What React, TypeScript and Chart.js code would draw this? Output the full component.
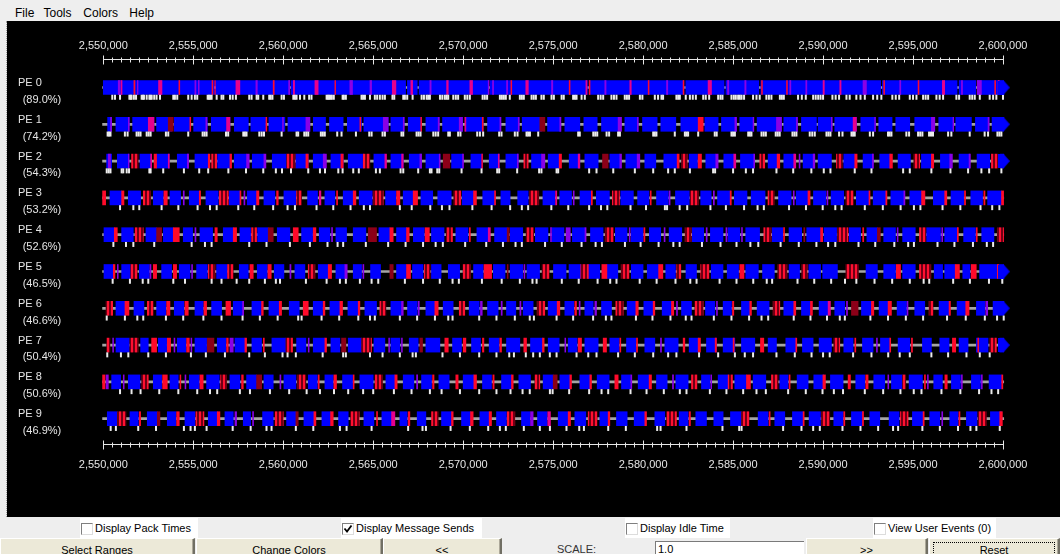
import { useEffect, useRef } from 'react';
import { Chart, registerables } from 'chart.js';

Chart.register(...registerables);

// Visible time window, in microseconds
const T0 = 2550000;
const T1 = 2600000;
const majorTicks = [2550000, 2555000, 2560000, 2565000, 2570000, 2575000, 2580000, 2585000, 2590000, 2595000, 2600000];
const minorTickStep = 500;

const peNames = ['PE 0', 'PE 1', 'PE 2', 'PE 3', 'PE 4', 'PE 5', 'PE 6', 'PE 7', 'PE 8', 'PE 9'];
const peUtilization = [89.0, 74.2, 54.3, 53.2, 52.6, 46.5, 46.6, 50.4, 50.6, 46.9];
// rows whose last execution runs past the right edge of the window
const peContinues = [true, true, true, false, false, true, true, true, false, false];
// trace extent for every processor (offset from T0)
const traceSpan = [-40, 50040];

// ---- busy periods of the main entry method, [start, end] offsets from T0 ----
const pe0Busy = [[0,6150],[6260,10370],[10450,16800],[16900,17450],[17550,21400],[21500,26900],[27000,32270],[32370,34500],[34600,36430],[36540,43200],[43300,47450],[47560,48480],[48580,50040]];
const pe1Busy = [[240,460],[700,1440],[1630,2815],[2960,3800],[3945,4850],[5020,5780],[6000,7040],[7280,8060],[8200,9020],[9200,10090],[10260,11480],[11670,12350],[12570,13330],[13560,14350],[14480,15830],[15980,16720],[16946,17687],[17928,18669],[18853,19965],[20150,21113],[21354,22095],[22372,23113],[23280,24350],[24688,25428],[25650,26483],[26706,27447],[27687,28706],[28984,29725],[29966,30780],[30983,31817],[32095,33058],[33428,34169],[34354,35187],[35372,36150],[36335,37687],[37817,38576],[38799,39632],[39725,40502],[40650,41854],[42095,42910],[43095,43836],[44040,44818],[45095,46207],[46429,47262],[47373,48244],[48466,49225],[49392,50040]];
const pe2Busy = [[185,463],[778,1426],[2037,2630],[2963,3667],[4111,4722],[5093,5833],[6352,7037],[7278,7963],[8278,8926],[9389,10185],[10704,11389],[11667,12315],[12648,13333],[13611,14444],[15037,15648],[15982,16667],[17002,17687],[17928,18669],[19354,19965],[20428,21076],[21446,22002],[22372,23057],[23798,24354],[24724,25335],[25891,26483],[26761,27502],[28150,28706],[29039,29669],[30094,30706],[31150,31891],[32558,33021],[33483,34039],[34483,35039],[35409,36151],[36947,37502],[37817,38428],[38891,39539],[39725,40465],[41150,41762],[42224,42780],[43150,43743],[44169,44854],[45466,46077],[46521,47077],[47558,48151],[48558,49262],[49855,50040]];
const pe3Busy = [[370,1019],[1389,2074],[2778,3333],[3704,4296],[4778,5333],[5704,6389],[7000,7593],[8000,8519],[8926,9537],[10037,10704],[11352,11907],[12315,12870],[13333,13889],[14222,14944],[15685,16259],[16667,17222],[17652,18307],[18587,19335],[19943,20575],[21089,21744],[22094,22609],[23029,23614],[24432,25087],[25367,26022],[26490,27121],[27401,28126],[28757,29459],[29693,30324],[30745,31399],[31797,32568],[33200,33784],[34135,34836],[35070,35772],[36006,36777],[37525,38226],[38507,39162],[39466,40144],[40448,41149],[41850,42552],[42786,43487],[43768,44493],[44820,45475],[46129,46760],[47111,47812],[48210,48864],[49145,49917]];
const pe4Busy = [[37,611],[1019,1667],[2370,2963],[3333,3889],[4444,4963],[5370,6074],[6667,7222],[7593,8185],[8575,9167],[9667,10370],[11019,11630],[12000,12593],[12926,13519],[13889,14593],[15315,15926],[16296,16852],[17231,17839],[18237,18938],[19593,20271],[20762,21393],[21744,22445],[22609,23310],[24011,24713],[24946,25601],[26069,26770],[27074,27775],[28454,29108],[29342,29997],[30347,30979],[31446,32148],[32732,33364],[33738,34439],[34719,35374],[35702,36473],[37174,37758],[38109,38811],[39092,39863],[40050,40752],[41453,42084],[42435,43019],[43370,44025],[44422,45124],[45755,46526],[46760,47462],[47812,48467],[48818,49496]];
const pe5Busy = [[37,556],[1019,1519],[2000,2556],[3241,3796],[4222,4815],[5185,5778],[6296,6889],[7556,8056],[8556,9111],[9500,10037],[10648,11204],[11944,12500],[12926,13426],[13889,14352],[14852,15407],[16296,16852],[17184,17769],[18237,18774],[19172,19803],[20575,21112],[21674,22328],[22609,23310],[23544,24245],[25017,25718],[25882,26537],[26957,27589],[27986,28594],[29342,29997],[30230,30862],[31259,31797],[32381,32966],[33784,34439],[34673,35304],[35702,36403],[36637,37291],[38109,38694],[39209,39863],[39980,40798],[42388,43019],[43370,44025],[44422,45124],[46176,46643],[46760,47345],[47765,48163],[48701,49683],[49780,50040]];
const pe6Busy = [[704,1204],[1704,2259],[2963,3481],[3944,4481],[5093,5556],[6019,6574],[7222,7741],[8259,8796],[9204,9815],[10333,10889],[11667,12185],[12593,13148],[13593,14167],[14537,15185],[15981,16574],[16907,17444],[17926,18426],[18889,19444],[20333,20889],[21352,21944],[22407,22926],[23333,23889],[24722,25224],[25650,26150],[26761,27224],[27687,28243],[29113,29632],[30039,30558],[31058,31576],[32132,32687],[33465,33984],[34447,34910],[35465,35928],[36336,37002],[37817,38373],[38799,39299],[39781,40281],[40650,41206],[42133,42688],[43114,43614],[44115,44633],[45096,45652],[46448,47003],[47448,47929],[48522,48985],[49448,50040]];
const pe7Busy = [[704,1444],[2074,2500],[3056,3519],[4111,4593],[5093,5741],[6333,6815],[7315,7870],[8259,8796],[9370,10148],[10741,11259],[11667,12315],[12648,13148],[13611,14352],[15037,15648],[15981,16481],[17000,17500],[17926,18704],[19407,19907],[20463,20963],[21444,22000],[22407,23148],[23741,24407],[24724,25335],[25835,26335],[26761,27502],[28150,28669],[29076,29595],[30094,30650],[31206,31947],[32558,33113],[33521,34076],[34447,35095],[35465,36206],[36947,37410],[37929,38484],[38854,39447],[39781,40466],[41152,41670],[42189,42781],[43189,43707],[44170,44818],[45522,46022],[46485,47003],[47559,48059],[48522,49170],[49818,50040]];
const pe8Busy = [[463,963],[1389,2037],[2778,3241],[3704,4167],[4778,5333],[5741,6444],[7037,7593],[7963,8519],[8926,9444],[10037,10704],[11389,11889],[12315,12778],[13296,13852],[14259,15000],[15704,16204],[16667,17259],[17685,18241],[18648,19222],[20000,20593],[21074,21574],[22130,22685],[23093,23741],[24444,25002],[25372,25928],[26483,27076],[27446,28113],[28798,29298],[29724,30335],[30743,31336],[31817,32502],[33243,33706],[34169,34725],[35095,35743],[36114,36818],[37595,38058],[38558,39170],[39484,40039],[40410,41114],[41817,42317],[42817,43428],[43800,44411],[44781,45522],[46150,46633],[47133,47633],[48244,48744],[49226,49911]];
const pe9Busy = [[222,778],[1481,1944],[2444,3000],[3556,4037],[4537,5093],[5833,6333],[6759,7222],[7778,8185],[8852,9444],[10185,10704],[11148,11704],[12148,12630],[13074,13611],[14481,15037],[15481,16019],[16481,16889],[17444,17926],[18796,19352],[19907,20407],[20926,21444],[21852,22407],[23241,23704],[24130,24667],[25280,25835],[26205,26817],[27594,28057],[28520,29113],[29502,30095],[30650,31206],[32002,32502],[32928,33521],[33928,34447],[34854,35465],[36392,36947],[37317,37873],[38299,38891],[39225,39855],[40595,41114],[41577,42189],[42596,43151],[43670,44226],[44966,45559],[45928,46485],[47041,47504],[47966,48559],[49300,49911]];

// ---- other entry methods: [start, end, kind]  r=red, m=magenta, p=purple, d=dark red, c=burst of short red entries ----
const pe0Entries = [[830,920,'p'],[980,1040,'m'],[1700,1760,'r'],[1890,1930,'p'],[3070,3260,'m'],[4200,4250,'r'],[5090,5150,'p'],[5280,5330,'p'],[6040,6090,'r'],[6190,6230,'m'],[7370,7590,'m'],[8480,8560,'p'],[9440,9500,'r'],[10300,10370,'p'],[10560,10630,'m'],[11760,11940,'m'],[12870,12910,'r'],[13700,13850,'p'],[14820,14910,'p'],[16060,16260,'m'],[17090,17190,'m'],[18150,18220,'p'],[19080,19170,'m'],[20370,20520,'m'],[21390,21440,'p'],[21630,21690,'p'],[22410,22470,'p'],[22650,22700,'r'],[23480,23620,'m'],[24910,24980,'p'],[25890,25940,'r'],[26820,26880,'m'],[27000,27050,'r'],[27870,27940,'p'],[29260,29340,'m'],[30280,30330,'r'],[31300,31370,'p'],[32220,32270,'r'],[33610,33800,'m'],[34690,34760,'p'],[35650,35720,'p'],[36580,36630,'r'],[37970,38020,'r'],[38150,38210,'p'],[39040,39100,'p'],[40000,40070,'m'],[40930,41000,'m'],[42220,42410,'p'],[43370,43420,'r'],[44260,44320,'p'],[45280,45330,'r'],[46630,46760,'m'],[47690,47750,'p'],[48560,48800,'p'],[49540,49590,'r'],[49730,49790,'m']];
const pe1Entries = [[400,460,'p'],[1390,1440,'p'],[2500,2815,'m'],[3610,3890,'d'],[4810,4860,'r'],[5700,5760,'p'],[6850,7040,'m'],[9040,9090,'r'],[9960,10010,'p'],[11260,11480,'p'],[14260,14310,'r'],[15560,15830,'p'],[16670,16720,'p'],[17640,17690,'r'],[18610,18670,'p'],[19780,19960,'p'],[20090,20150,'m'],[21060,21113,'r'],[22040,22095,'p'],[23060,23110,'p'],[24260,24540,'d'],[25370,25428,'p'],[28610,28800,'p'],[29680,29725,'p'],[33060,33340,'r'],[35100,35187,'p'],[36110,36150,'p'],[37410,37687,'p'],[38520,38576,'p'],[40460,40502,'p'],[41670,41854,'m'],[42870,42910,'p'],[46020,46207,'p'],[47220,47262,'p'],[49170,49225,'p']];
const pe2Entries = [[280,400,'p'],[1390,1430,'p'],[1570,1940,'c'],[2630,2690,'m'],[2820,2960,'r'],[3610,3667,'m'],[4670,4740,'p'],[5833,5926,'r'],[6020,6300,'c'],[7037,7130,'r'],[7963,8110,'p'],[8926,9037,'p'],[10185,10650,'c'],[11260,11389,'r'],[12222,12400,'p'],[13204,13333,'r'],[14444,14815,'c'],[15648,15740,'m'],[16580,16667,'m'],[17594,17687,'p'],[18669,18720,'p'],[18890,19260,'d'],[19965,20020,'p'],[21030,21076,'r'],[21950,22002,'m'],[23010,23057,'p'],[23372,23613,'c'],[24354,24540,'p'],[25335,25465,'r'],[26391,26483,'m'],[27743,28058,'d'],[28706,28800,'p'],[29669,29817,'p'],[31891,32002,'r'],[32132,32447,'c'],[33058,33243,'r'],[34039,34169,'p'],[35039,35150,'m'],[36151,36200,'p'],[36484,36761,'c'],[37447,37595,'r'],[38372,38483,'m'],[38669,38720,'p'],[39450,39539,'p'],[40743,41076,'c'],[41762,41891,'r'],[42743,42800,'p'],[43706,43855,'r'],[45040,45373,'c'],[46021,46150,'r'],[47040,47188,'p'],[48114,48188,'p'],[49355,49725,'c']];
const pe3Entries = [[-40,130,'r'],[1019,1148,'r'],[2222,2630,'c'],[3370,3556,'r'],[4444,4500,'p'],[5333,5407,'r'],[6444,6944,'c'],[7593,7650,'r'],[7815,7870,'p'],[8519,8648,'r'],[9630,9722,'r'],[10741,11019,'c'],[12000,12093,'m'],[12963,13020,'r'],[13889,14037,'r'],[15000,15556,'c'],[16296,16482,'r'],[17222,17465,'r'],[19476,19873,'c'],[20575,20738,'r'],[21744,21800,'r'],[23684,24199,'c'],[25134,25200,'m'],[26116,26170,'p'],[27121,27180,'r'],[28290,28687,'c'],[30394,30450,'r'],[31446,31500,'p'],[32615,33083,'c'],[33901,33960,'p'],[34836,34900,'r'],[36941,37291,'c'],[38343,38400,'p'],[39162,39279,'r'],[40214,40270,'p'],[41266,41687,'c'],[42552,42610,'r'],[43487,43550,'r'],[44493,44550,'p'],[45475,45660,'r'],[46760,46877,'r'],[47859,47920,'r'],[48935,49000,'r'],[49917,50034,'r']];
const pe4Entries = [[611,778,'r'],[1759,2222,'c'],[2963,3241,'d'],[3889,4222,'r'],[5093,5150,'p'],[6204,6333,'r'],[7222,7407,'r'],[8241,8519,'c'],[9167,9444,'d'],[10556,10833,'r'],[11667,11815,'r'],[12685,12740,'p'],[14722,15185,'d'],[15926,16111,'r'],[16852,17000,'r'],[17886,18120,'r'],[19055,19406,'c'],[20341,20400,'r'],[21393,21510,'m'],[22445,22562,'d'],[23497,23918,'c'],[24853,24910,'p'],[25718,25952,'p'],[26770,26830,'p'],[27892,28360,'c'],[29225,29280,'p'],[30043,30100,'r'],[31166,31220,'p'],[32335,32662,'c'],[33504,33560,'p'],[34603,34660,'p'],[35468,35520,'p'],[36707,37104,'c'],[37805,37860,'r'],[38928,38990,'d'],[39863,39980,'r'],[40798,41383,'c'],[42201,42260,'r'],[43019,43183,'d'],[44118,44170,'p'],[45357,45708,'c'],[46596,46650,'p'],[47462,47520,'r'],[48514,48570,'r'],[49683,50034,'c']];
const pe5Entries = [[556,648,'r'],[778,830,'p'],[1519,1889,'c'],[2593,2650,'p'],[2778,2963,'r'],[3889,4074,'r'],[4907,4960,'p'],[5833,6204,'c'],[6907,7222,'c'],[8148,8333,'r'],[9148,9333,'r'],[10370,10430,'p'],[11389,11759,'c'],[12500,12685,'r'],[13426,13555,'p'],[14426,14480,'p'],[15926,16111,'d'],[16852,17074,'r'],[17839,18166,'c'],[19990,20412,'c'],[21159,21580,'r'],[22445,22500,'d'],[23380,23430,'p'],[24386,24783,'c'],[26537,26957,'c'],[27706,27986,'r'],[28781,29225,'c'],[30862,31095,'r'],[31867,32101,'c'],[33200,33667,'c'],[35374,35608,'r'],[37478,37992,'c'],[38811,39115,'c'],[41266,41967,'c'],[44072,44306,'r'],[45357,45988,'c'],[47345,47578,'r'],[48233,48514,'r'],[49683,49760,'r']];
const pe6Entries = [[150,520,'c'],[1204,1426,'r'],[2444,2778,'c'],[3519,3704,'r'],[4537,4722,'r'],[5593,5741,'r'],[6815,7074,'r'],[7741,7800,'p'],[8796,8890,'r'],[9778,9907,'r'],[11111,11389,'r'],[12222,12315,'r'],[13148,13296,'r'],[14167,14259,'r'],[15370,15704,'c'],[16574,16670,'p'],[17500,17560,'p'],[18426,18611,'r'],[19778,20093,'c'],[20960,21060,'p'],[22110,22170,'p'],[23150,23210,'p'],[24111,24539,'c'],[25224,25372,'r'],[26205,26298,'r'],[26445,26500,'p'],[27317,27410,'p'],[28483,28891,'c'],[29595,29730,'r'],[30558,30650,'r'],[31576,31700,'r'],[31854,31910,'p'],[32872,33335,'c'],[34076,34130,'p'],[34966,35040,'r'],[35928,36020,'r'],[37225,37596,'c'],[38373,38484,'r'],[39299,39410,'r'],[40281,40410,'m'],[41300,41360,'p'],[41577,41948,'d'],[42688,42820,'r'],[43614,43800,'r'],[44670,44720,'p'],[45892,46114,'c'],[47003,47080,'r'],[47929,48115,'r'],[49040,49150,'p']];
const pe7Entries = [[185,370,'c'],[520,570,'p'],[1481,1944,'c'],[2685,2963,'r'],[3556,3741,'r'],[3930,3980,'p'],[4630,4780,'r'],[4870,4920,'p'],[5778,6148,'d'],[6852,6944,'r'],[7037,7222,'p'],[7870,7963,'r'],[8890,8950,'r'],[10148,10519,'c'],[11389,11440,'p'],[12315,12407,'r'],[13241,13481,'d'],[14352,14907,'c'],[15860,15910,'p'],[16570,16620,'p'],[17590,17740,'d'],[18980,19170,'r'],[20000,20150,'r'],[21070,21150,'r'],[22037,22130,'r'],[23370,23520,'r'],[24407,24500,'r'],[25650,25700,'p'],[26391,26576,'r'],[27780,27965,'r'],[28706,28760,'r'],[29632,29690,'r'],[30965,31020,'p'],[32225,32318,'r'],[33058,33187,'r'],[34003,34076,'r'],[35002,35060,'r'],[36521,36706,'r'],[38484,38540,'r'],[40595,40928,'c'],[41763,41820,'r'],[42967,43020,'p'],[43707,43760,'r'],[44911,44970,'r'],[47188,47373,'r'],[48596,48650,'r'],[49262,49633,'c']];
const pe8Entries = [[-40,90,'r'],[150,280,'p'],[1110,1160,'p'],[2130,2500,'c'],[3296,3556,'r'],[4260,4310,'r'],[4540,4590,'p'],[5370,5550,'r'],[6519,6852,'c'],[7685,7780,'r'],[8519,8800,'d'],[9815,9870,'p'],[10778,11259,'c'],[11940,12000,'r'],[12815,12960,'r'],[13889,13940,'r'],[15093,15518,'c'],[16204,16330,'r'],[17410,17470,'p'],[18300,18380,'r'],[19590,19720,'r'],[20593,20740,'r'],[21650,21720,'r'],[22685,22780,'r'],[23981,24259,'c'],[25002,25224,'d'],[25928,26020,'r'],[27039,27131,'r'],[28428,28613,'r'],[29317,29370,'p'],[30335,30465,'r'],[31632,31690,'p'],[32687,33002,'c'],[33761,33810,'p'],[34725,34965,'c'],[35743,35965,'r'],[37132,37503,'c'],[38113,38170,'r'],[39992,40132,'r'],[41392,41522,'r'],[42372,42503,'r'],[43600,43650,'p'],[44411,44596,'c'],[45633,45690,'r'],[45800,45850,'p'],[46770,46900,'r'],[47689,47740,'p'],[48799,48850,'p'],[49930,49990,'r']];
const pe9Entries = [[778,1260,'c'],[2000,2074,'r'],[3000,3148,'d'],[4074,4222,'r'],[5148,5593,'c'],[6333,6481,'r'],[7315,7407,'p'],[8296,8350,'p'],[9537,10000,'c'],[10704,10833,'d'],[11704,11815,'r'],[12630,12778,'r'],[13741,14222,'c'],[15185,15240,'r'],[16019,16204,'m'],[16944,17037,'r'],[18241,18611,'c'],[19352,19444,'r'],[20407,20555,'r'],[21444,21574,'r'],[22444,22870,'c'],[23741,23889,'p'],[24700,24850,'m'],[25835,25965,'r'],[26946,27446,'c'],[28057,28150,'r'],[30095,30190,'r'],[31298,31854,'c'],[32557,32630,'r'],[35465,35891,'c'],[37002,37060,'r'],[38891,38950,'r'],[39911,40373,'c'],[41150,41210,'r'],[42189,42250,'r'],[44300,44726,'c'],[45559,45620,'r'],[46596,46650,'p'],[47550,47610,'r'],[48615,49078,'c'],[49818,49965,'r']];

// ---- message send instants (offset from T0) ----
const pe0Sends = [500,650,930,1450,1520,1570,1700,1820,2130,2200,2260,2410,2560,2620,2690,2830,2960,3150,3890,3980,4110,4720,4910,5090,5220,5800,5870,5940,6020,6300,6570,6670,7040,7190,7370,8110,8240,8520,8610,8890,9220,9300,9400,9910,10040,10560,10650,10740,10930,11170,11440,11570,12410,12480,12550,12620,12700,12810,13300,13370,13480,14350,14440,14540,14820,15090,15220,15370,15520,15650,16070,16170,16670,16760,16890,17190,17690,17820,17970,18060,18150,18710,18840,18980,19080,19170,19450,19590,19720,20090,20230,20370,21080,21200,21330,22040,22150,22260,22370,22590,23150,23260,23370,23800,23920,24040,24350,24480,24910,25040,25470,25590,26110,26210,26300,26580,26760,27500,27640,27780,28240,28380,28520,28980,29100,29220,29820,29960,30650,30830,31020,31110,31850,31950,32040,32370,32600,32760,32930,33340,33480,33670,34170,34300,34410,34910,35040,35150,35280,35370,35470,35610,36110,36300,36480,36850,36990,37130,37600,37710,37820,38610,38820,39040,39450,39590,39730,39860,40000,40520,40700,40890,41300,41480,41850,42080,42320,42780,43010,43240,43850,44040,44230,44820,45000,45190,45560,45700,45840,46300,46480,46670,47410,47560,48150,48290,48430,48710,49260,49450,49630,50000];
const pe1Sends = [240,320,400,1200,1350,1850,1960,2070,2410,2520,2630,3480,3610,4720,5520,5630,5740,6820,6940,7780,7870,7960,8670,8800,8930,9910,10740,10830,11170,11280,11390,12090,12200,12310,13000,13240,14040,14780,14910,15520,15650,16570,16670,17410,17520,17630,18340,18470,18610,19170,19260,19720,19850,20780,20930,21110,22000,22130,22870,23020,23520,23610,23710,24170,26390,26480,27230,27340,27450,27970,28110,28610,28710,30560,30650,30740,31760,32320,32410,32500,33060,33980,34090,34910,35000,35100,35840,35930,36020,36580,36700,36820,37370,37480,37590,38300,38410,38520,39260,39400,39540,40190,40300,40410,40890,41080,41580,41670,41760,42600,42780,43610,43700,43800,44630,44780,45280,45400,45520,45890,46000,46110,46950,47130,48150,48980,49170,49690,49800,49910];
const pe2Sends = [190,300,400,1020,1110,1300,1430,2560,2630,3330,4480,5330,5830,6950,7930,8890,9590,9930,10430,11390,12040,12320,13060,13300,13890,14200,15150,15370,16520,16670,17500,18150,18240,18560,18670,19910,21020,21890,22000,23000,24220,24350,25190,25280,27000,27410,28340,29540,30560,31390,31760,32600,33890,34000,35000,35710,36110,37410,38340,39350,40040,40410,41760,42690,44450,44820,46020,47080,48060,48800,49230,49910];
const pe3Sends = [930,1670,2000,3240,4170,5240,5930,6300,7500,8390,9440,10240,10650,11850,12780,13740,14480,14820,16480,17140,18170,18820,19240,20510,21580,22610,23260,23610,24900,25840,27000,27660,28010,29300,30160,31210,31330,32030,32450,33740,34600,35610,36360,36710,38110,39050,39980,40680,41030,42320,43320,44310,45050,45410,46640,47630,48750,49400,49800];
const pe4Sends = [560,1260,1670,2830,4910,5650,6020,8110,9070,10370,11480,12460,13020,13330,14590,15830,16800,17770,18470,18870,20110,21280,22210,22910,23260,24550,25480,26580,27360,27710,28990,29860,30860,31680,32030,33270,34300,35190,35960,36400,37640,38650,39630,40280,40680,41970,42900,43960,44730,45050,46360,47300,48330,49100,49450];
const pe5Sends = [520,1480,2190,2500,3890,4540,6020,6570,7410,8110,8980,9590,9820,11260,12410,13150,13480,14260,14910,15280,16760,17770,18700,19410,19760,21040,22140,23150,23850,24080,25480,26420,27470,28170,28520,29810,30750,31800,32620,32970,34250,35190,36120,36870,37170,38580,39510,40450,41220,41850,42860,43840,44820,45590,45900,47230,48160,49220,49960];
const pe6Sends = [190,1200,1890,2220,3480,4440,5560,6570,7740,8700,9690,10830,11020,12130,13110,14170,14820,15090,16480,17440,18430,19170,19410,20890,21850,22870,23700,23930,25190,26110,27220,27930,28240,29600,30520,31520,32370,32690,33930,34910,35890,36580,36950,38370,39300,40220,40930,41210,42630,43610,44600,45560,46890,47930,48990,49670,50040];
const pe7Sends = [220,980,1390,2500,3480,4870,5700,6760,8110,8980,9960,10240,10700,12190,13330,13480,14820,15520,16480,17190,17370,18850,19820,20890,21850,22560,22820,23480,23890,24260,24815,25190,26300,26950,27410,28610,29540,30560,31390,31850,33110,34170,35100,35650,36110,37410,38430,39360,40000,40370,41670,42690,43620,44260,44820,46020,46950,47970,48710,49260];
const pe8Sends = [930,1570,2070,3110,4170,5220,5930,6330,7590,8150,9260,10330,11300,12040,12820,13610,14440,15000,16150,17130,18150,18800,19820,20890,21850,22630,23300,23700,24820,24970,25890,27000,27690,28060,29300,30190,31150,32040,32410,33710,34630,35560,36300,36820,38060,39040,39970,40600,41110,42320,43340,44300,45040,45470,46580,47630,48670,49360,49730];
const pe9Sends = [410,700,1940,2930,4480,4850,5090,5740,7190,8190,9070,9350,10700,11670,13150,13520,14910,16940,17740,17930,19300,20370,21390,22040,22370,23370,24260,24820,25740,26450,26710,28060,29040,30780,30970,32410,34410,35340,35470,37780,38800,39450,39820,41080,42080,43060,43890,44170,45520,46490,47500,48190,48520,49820];

const busyRows = [pe0Busy, pe1Busy, pe2Busy, pe3Busy, pe4Busy, pe5Busy, pe6Busy, pe7Busy, pe8Busy, pe9Busy];
const entryRows = [pe0Entries, pe1Entries, pe2Entries, pe3Entries, pe4Entries, pe5Entries, pe6Entries, pe7Entries, pe8Entries, pe9Entries];
const sendRows = [pe0Sends, pe1Sends, pe2Sends, pe3Sends, pe4Sends, pe5Sends, pe6Sends, pe7Sends, pe8Sends, pe9Sends];

const entryColors: Record<string, string> = { r: '#ff0a2a', m: '#e6008c', p: '#8a00e6', d: '#8c0018' };
const SEND_OFFSET = 0.265; // send marks sit just under each row's bar
const LABEL_FONT = '11px "Liberation Sans", Arial, sans-serif';
const TEXT_COLOR = '#e6e6e6';

const timelineFrame = {
  id: 'timelineFrame',
  afterDatasetsDraw(chart: any) {
    const { ctx, chartArea, scales } = chart;
    const xs = scales.x;
    const ys = scales.y;
    const left = xs.getPixelForValue(T0);
    const right = xs.getPixelForValue(T1);
    ctx.save();
    ctx.strokeStyle = TEXT_COLOR;
    ctx.fillStyle = TEXT_COLOR;
    ctx.lineWidth = 1;
    ctx.font = LABEL_FONT;
    const rulers = [
      { y: chartArea.top, labelY: chartArea.top - 9.7 },
      { y: chartArea.bottom, labelY: chartArea.bottom + 23.7 },
    ];
    for (const r of rulers) {
      const ly = Math.round(r.y) + 0.5;
      ctx.beginPath();
      ctx.moveTo(left, ly);
      ctx.lineTo(right + 1, ly);
      for (let t = T0; t <= T1; t += minorTickStep) {
        const px = Math.round(xs.getPixelForValue(t)) + 0.5;
        const major = (t - T0) % 5000 === 0;
        ctx.moveTo(px, ly - (major ? 4 : 2));
        ctx.lineTo(px, ly + (major ? 5 : 3));
      }
      ctx.stroke();
      ctx.textAlign = 'center';
      ctx.textBaseline = 'alphabetic';
      for (const t of majorTicks) {
        ctx.fillText(t.toLocaleString('en-US'), xs.getPixelForValue(t), r.labelY);
      }
    }
    ctx.textAlign = 'left';
    peNames.forEach((name, i) => {
      const cy = ys.getPixelForValue(i);
      ctx.fillText(name, 11, cy - 1.5);
      ctx.fillText(`(${peUtilization[i].toFixed(1)}%)`, 15.7, cy + 15.2);
    });
    ctx.restore();
  },
};

function CheckItem({ left, width, label, checked }: { left: number; width: number; label: string; checked?: boolean }) {
  return (
    <div style={{ position: 'absolute', left, top: 1, width, height: 20, background: '#ffffff' }}>
      <div style={{ position: 'absolute', left: 1, top: 5, width: 10, height: 10, borderStyle: 'solid', borderWidth: 1, borderColor: '#7f7f7f #dcdcdc #dcdcdc #7f7f7f', background: '#ffffff' }}>
        {checked && (
          <svg width="10" height="10" style={{ position: 'absolute', left: 0, top: 0 }}>
            <polyline points="1.5,4.5 4,7.5 8.5,1.5" fill="none" stroke="#000" strokeWidth="1.8" />
          </svg>
        )}
      </div>
      <span style={{ position: 'absolute', left: 15, top: 4, font: LABEL_FONT, lineHeight: '13px', color: '#000', whiteSpace: 'nowrap' }}>{label}</span>
    </div>
  );
}

function PanelButton({ left, width, label, focused }: { left: number; width: number; label: string; focused?: boolean }) {
  return (
    <div style={{ position: 'absolute', left, top: 538, width, height: 24, boxSizing: 'border-box', background: '#ece9d8', borderTop: '1px solid #ffffff', borderLeft: '1px solid #ffffff', borderRight: '2px solid #716f64', boxShadow: 'inset -1px 0 #aca899' }}>
      {focused && <div style={{ position: 'absolute', left: 3, top: 3, right: 3, bottom: 3, border: '1px dotted #000' }} />}
      <div style={{ position: 'absolute', left: 0, right: 0, top: 4.5, textAlign: 'center', font: LABEL_FONT, lineHeight: '13px', color: '#000' }}>{label}</div>
    </div>
  );
}

export default function App() {
  const canvasRef = useRef<HTMLCanvasElement>(null);

  useEffect(() => {
    const canvas = canvasRef.current;
    if (!canvas) return;

    // burst of short entries rendered as alternating red / dark lines
    const tile = document.createElement('canvas');
    tile.width = 4;
    tile.height = 16;
    const tctx = tile.getContext('2d')!;
    tctx.fillStyle = '#ff1030';
    tctx.fillRect(0, 0, 2, 16);
    tctx.fillStyle = '#6e0014';
    tctx.fillRect(2, 0, 2, 16);
    const burstFill = canvas.getContext('2d')!.createPattern(tile, 'repeat');

    // arrow head marking an execution that continues past the window
    const arrow = document.createElement('canvas');
    arrow.width = 12;
    arrow.height = 14;
    const actx = arrow.getContext('2d')!;
    actx.fillStyle = '#0000ff';
    actx.fillRect(0, 0, 6, 14);
    actx.beginPath();
    actx.moveTo(6, 0);
    actx.lineTo(12, 7);
    actx.lineTo(6, 14);
    actx.closePath();
    actx.fill();

    const idleData = peNames.map((_, i) => ({ x: [T0 + traceSpan[0], T0 + traceSpan[1]], y: i }));
    const busyData = busyRows.flatMap((spans, i) => spans.map(([s, e]) => ({ x: [T0 + s, T0 + e], y: i })));
    const entryData = (kind: string) =>
      entryRows.flatMap((list, i) => list.filter((en) => en[2] === kind).map((en) => ({ x: [T0 + (en[0] as number), T0 + (en[1] as number)], y: i })));
    const sendData = sendRows.flatMap((list, i) => list.map((t) => ({ x: T0 + t, y: i + SEND_OFFSET })));
    const arrowData = busyRows
      .map((spans, i) => (peContinues[i] ? { x: T0 + spans[spans.length - 1][1], y: i } : null))
      .filter((d) => d !== null);

    const barBase = { type: 'bar', grouped: false, borderWidth: 0, clip: false as any, indexAxis: 'y' };

    const chart = new Chart(canvas, {
      type: 'bar',
      data: {
        datasets: [
          { ...barBase, label: 'Idle', data: idleData, backgroundColor: '#a4a4a4', barThickness: 2, order: 6 },
          { ...barBase, label: 'Busy', data: busyData, backgroundColor: '#0000ff', barThickness: 14, order: 5 },
          { ...barBase, label: 'Entry r', data: entryData('r'), backgroundColor: entryColors.r, barThickness: 14, order: 4 },
          { ...barBase, label: 'Entry m', data: entryData('m'), backgroundColor: entryColors.m, barThickness: 14, order: 4 },
          { ...barBase, label: 'Entry p', data: entryData('p'), backgroundColor: entryColors.p, barThickness: 14, order: 4 },
          { ...barBase, label: 'Entry d', data: entryData('d'), backgroundColor: entryColors.d, barThickness: 14, order: 4 },
          { ...barBase, label: 'Entry burst', data: entryData('c'), backgroundColor: burstFill, barThickness: 14, order: 4 },
          {
            type: 'scatter', label: 'Message sends', data: sendData, showLine: false, clip: false,
            pointStyle: 'line', rotation: 90, pointRadius: 2.5, borderColor: '#ececec', backgroundColor: '#ececec', borderWidth: 2, order: 2,
          },
          {
            type: 'scatter', label: 'Continues', data: arrowData, showLine: false, clip: false,
            pointStyle: arrow, pointRadius: 7, order: 1,
          },
        ] as any,
      },
      options: {
        indexAxis: 'y',
        animation: false,
        responsive: false,
        maintainAspectRatio: false,
        devicePixelRatio: 1,
        events: [],
        layout: { padding: { left: 96.3, right: 57, top: 38, bottom: 73 } },
        scales: {
          x: { type: 'linear', min: T0, max: T1, offset: false, display: false },
          y: { type: 'linear', min: -0.7745, max: 9.6875, reverse: true, offset: false, grace: 0, display: false },
        },
        plugins: { legend: { display: false }, tooltip: { enabled: false } },
      } as any,
      plugins: [timelineFrame],
    });
    return () => chart.destroy();
  }, []);

  const uiFont = '12px "Liberation Sans", Arial, sans-serif';

  return (
    <div style={{ position: 'fixed', left: 0, top: 0, width: 1060, height: 554, overflow: 'hidden', background: '#eeeeee', fontFamily: '"Liberation Sans", Arial, sans-serif' }}>
      {/* menu bar */}
      <div style={{ position: 'absolute', left: 0, top: 0, width: 1060, height: 21, background: '#eeeeee' }}>
        {[['File', 15], ['Tools', 43.5], ['Colors', 83.3], ['Help', 129.3]].map(([t, x]) => (
          <span key={t as string} style={{ position: 'absolute', left: x as number, top: 5.5, font: uiFont, lineHeight: '14px', color: '#000' }}>{t}</span>
        ))}
      </div>
      {/* left edge of the scroll pane */}
      <div style={{ position: 'absolute', left: 0, top: 21, width: 6, height: 496, background: '#eeeeee', borderRight: '1px dotted #a0a0a0' }} />
      {/* timeline */}
      <div style={{ position: 'absolute', left: 7, top: 21, width: 1053, height: 496, background: '#000000' }}>
        <canvas ref={canvasRef} width={1053} height={496} style={{ display: 'block' }} />
      </div>
      {/* controls */}
      <div style={{ position: 'absolute', left: 0, top: 517, width: 1060, height: 21 }}>
        <CheckItem left={80} width={118} label="Display Pack Times" />
        <CheckItem left={341} width={141} label="Display Message Sends" checked />
        <CheckItem left={625} width={105} label="Display Idle Time" />
        <CheckItem left={873} width={123} label="View User Events (0)" />
      </div>
      <PanelButton left={0} width={195} label="Select Ranges" />
      <PanelButton left={196} width={187} label="Change Colors" />
      <PanelButton left={383} width={119} label="<<" />
      <span style={{ position: 'absolute', left: 557, top: 542.5, font: LABEL_FONT, lineHeight: '13px', color: '#333' }}>SCALE:</span>
      <div style={{ position: 'absolute', left: 655, top: 541, width: 149, height: 20, boxSizing: 'border-box', background: '#ffffff', borderTop: '1px solid #7a7a7a', borderLeft: '1px solid #7a7a7a' }}>
        <span style={{ position: 'absolute', left: 2, top: 1, font: LABEL_FONT, lineHeight: '13px', color: '#000' }}>1.0</span>
      </div>
      <PanelButton left={806} width={122} label=">>" />
      <PanelButton left={929} width={131} label="Reset" focused />
    </div>
  );
}
